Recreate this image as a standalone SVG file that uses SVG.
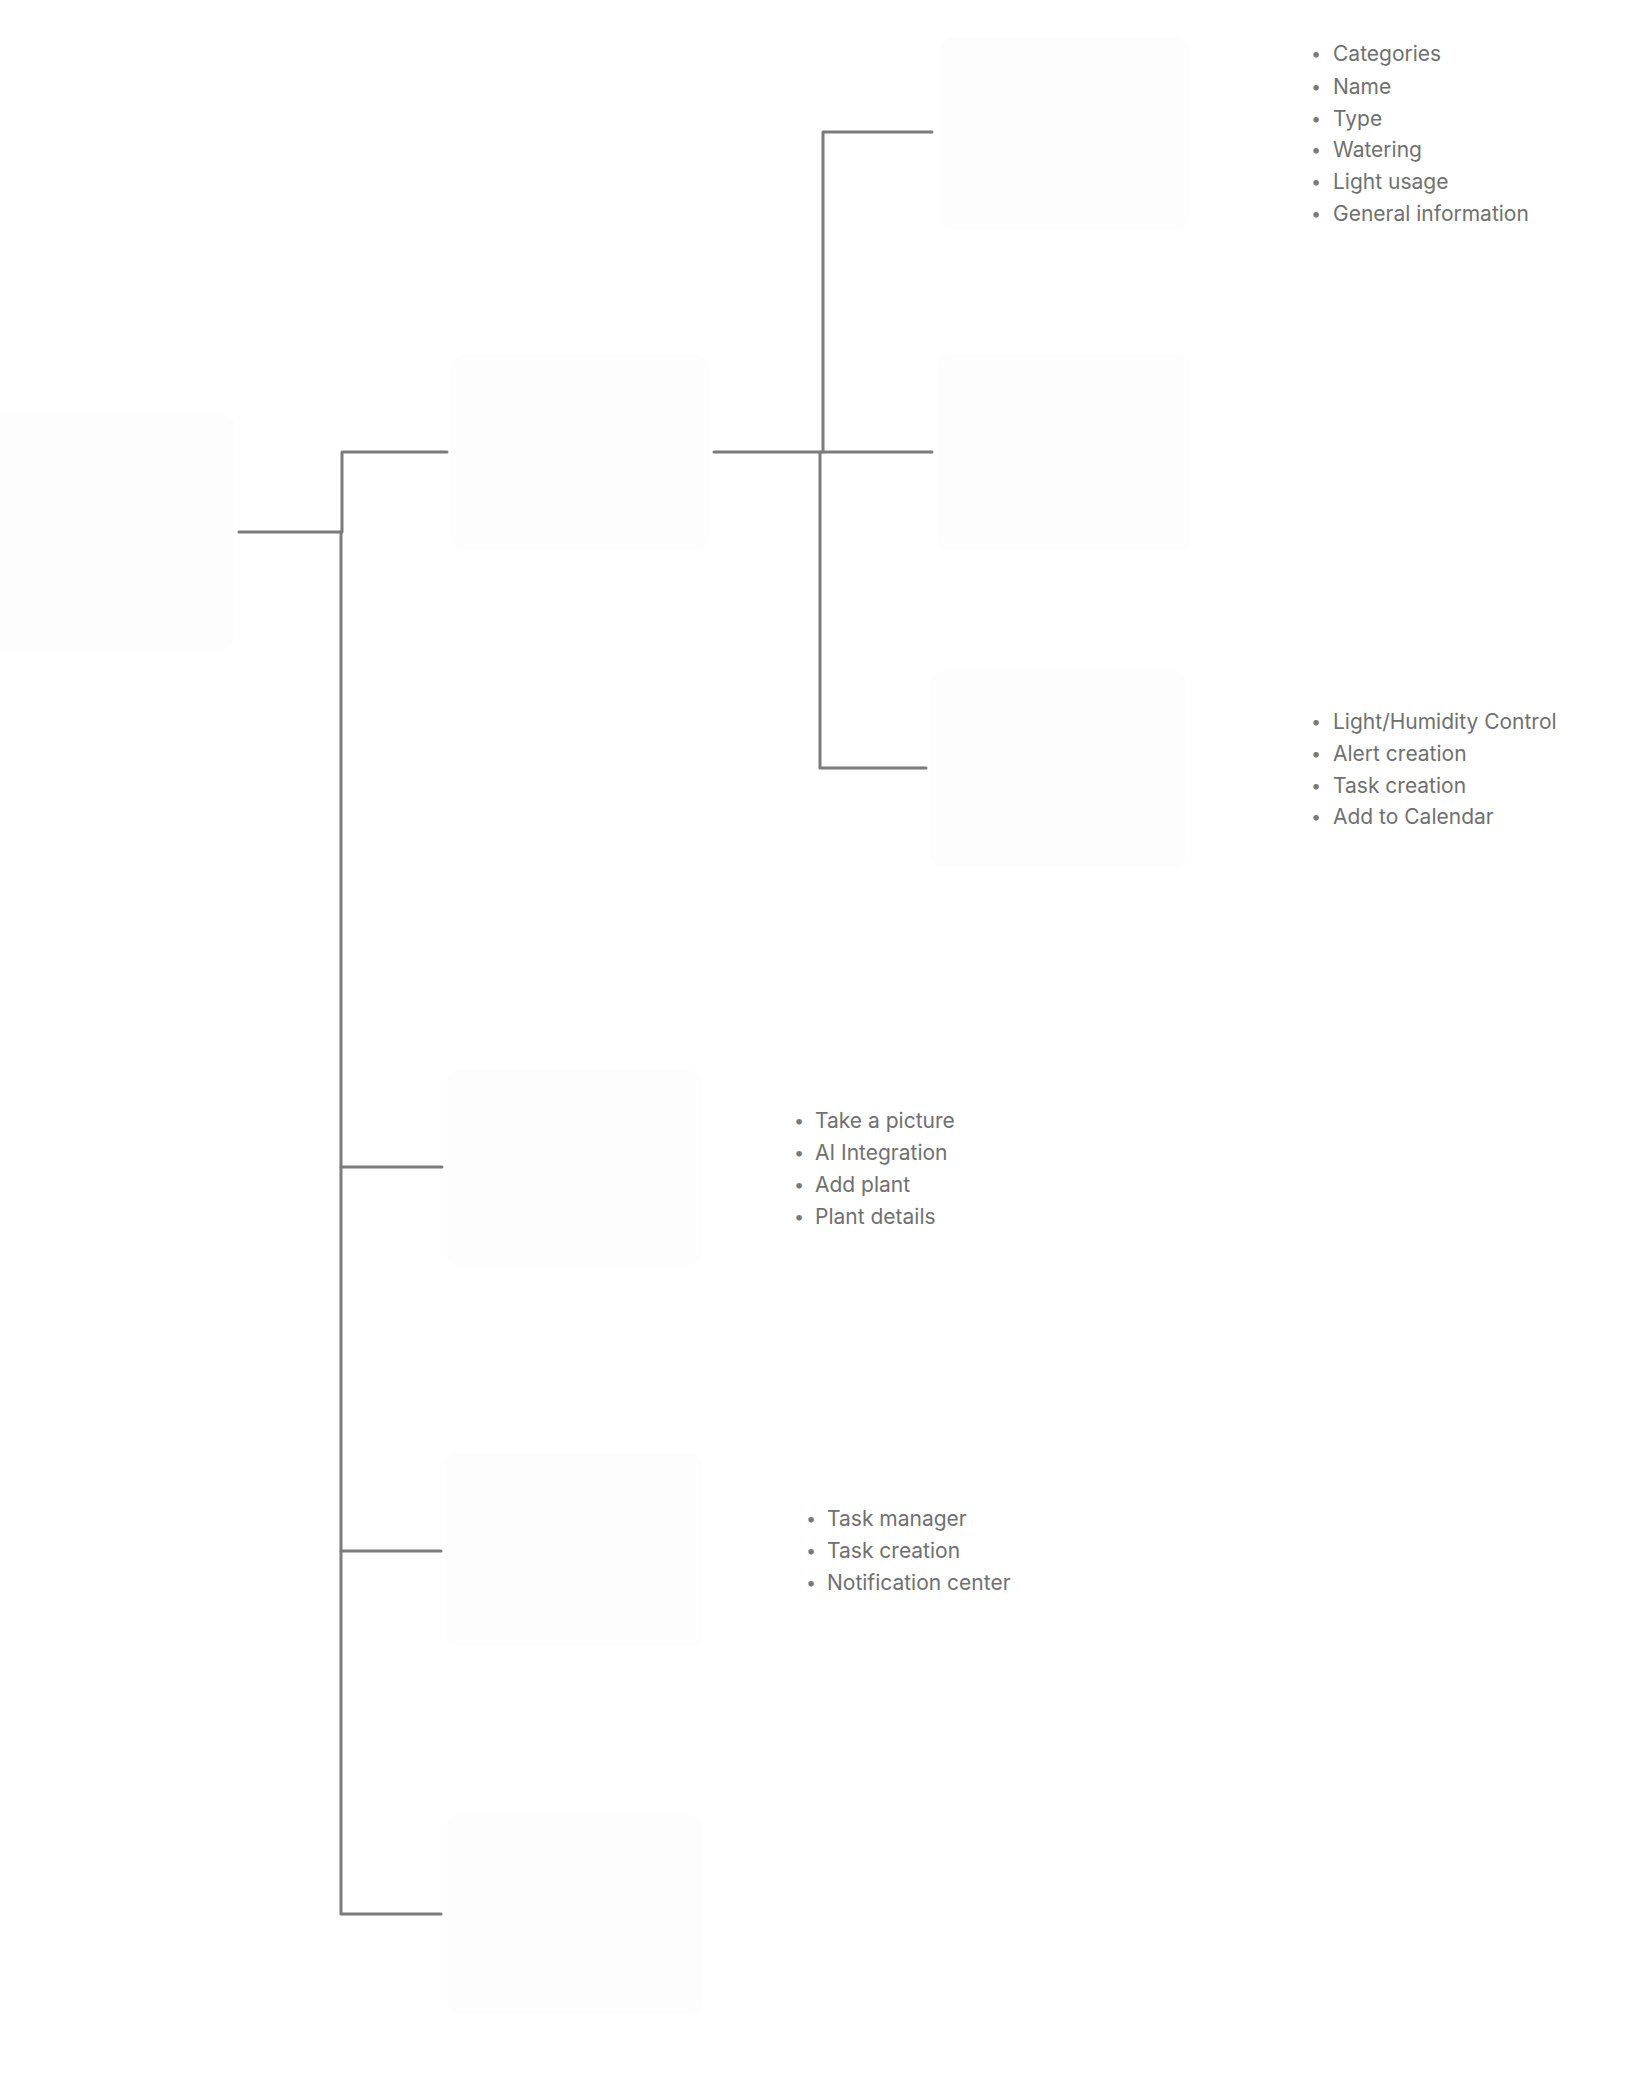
<svg xmlns="http://www.w3.org/2000/svg" width="1632" height="2097" viewBox="0 0 1632 2097">
<style>
.box{fill:#fdfdfd;stroke:none}
.ln{fill:none;stroke:#7b7b7b;stroke-width:3;stroke-linecap:round;stroke-linejoin:round}
.t{font-family:Inter,"Noto Sans","Liberation Sans",sans-serif;font-size:21px;fill:#707070}
.b{font-family:Inter,"Noto Sans","Liberation Sans",sans-serif;font-size:18px;fill:#7a7a7a}
</style>
<rect width="1632" height="2097" fill="#ffffff"/>
<g id="connectors">
<path class="ln" d="M239 532 H342 V452 H447"/>
<path class="ln" d="M341 532 V1914 H441"/>
<path class="ln" d="M341 1167 H442"/>
<path class="ln" d="M341 1551 H441"/>
<path class="ln" d="M714 452 H932"/>
<path class="ln" d="M823 452 V132 H932"/>
<path class="ln" d="M820 452 V768 H926"/>
</g>
<g id="root"><rect class="box" x="-12" y="415" width="247" height="234" rx="13"/></g>
<g id="node-l2-top"><rect class="box" x="451" y="355" width="258" height="195" rx="13"/></g>
<g id="node-l2-2"><rect class="box" x="447" y="1070" width="255" height="195" rx="13"/></g>
<g id="node-l2-3"><rect class="box" x="445" y="1453" width="257" height="193" rx="13"/></g>
<g id="node-l2-4"><rect class="box" x="447" y="1815" width="256" height="198" rx="13"/></g>
<g id="node-l3-top"><rect class="box" x="940" y="37" width="249" height="193" rx="13"/></g>
<g id="node-l3-mid"><rect class="box" x="937" y="355" width="253" height="195" rx="13"/></g>
<g id="node-l3-bot"><rect class="box" x="930" y="671" width="256" height="196" rx="13"/></g>
<g id="list-1">
<text class="b" x="1311" y="60">•</text><text class="t" x="1333" y="61">Categories</text>
<text class="b" x="1311" y="93">•</text><text class="t" x="1333" y="94">Name</text>
<text class="b" x="1311" y="125">•</text><text class="t" x="1333" y="126">Type</text>
<text class="b" x="1311" y="156">•</text><text class="t" x="1333" y="157">Watering</text>
<text class="b" x="1311" y="188">•</text><text class="t" x="1333" y="189">Light usage</text>
<text class="b" x="1311" y="220">•</text><text class="t" x="1333" y="221">General information</text>
</g>
<g id="list-2">
<text class="b" x="1311" y="728">•</text><text class="t" x="1333" y="729">Light/Humidity Control</text>
<text class="b" x="1311" y="760">•</text><text class="t" x="1333" y="761">Alert creation</text>
<text class="b" x="1311" y="792">•</text><text class="t" x="1333" y="793">Task creation</text>
<text class="b" x="1311" y="823">•</text><text class="t" x="1333" y="824">Add to Calendar</text>
</g>
<g id="list-3">
<text class="b" x="794" y="1127">•</text><text class="t" x="815" y="1128">Take a picture</text>
<text class="b" x="794" y="1159">•</text><text class="t" x="815" y="1160">AI Integration</text>
<text class="b" x="794" y="1191">•</text><text class="t" x="815" y="1192">Add plant</text>
<text class="b" x="794" y="1223">•</text><text class="t" x="815" y="1224">Plant details</text>
</g>
<g id="list-4">
<text class="b" x="806" y="1525">•</text><text class="t" x="827" y="1526">Task manager</text>
<text class="b" x="806" y="1557">•</text><text class="t" x="827" y="1558">Task creation</text>
<text class="b" x="806" y="1589">•</text><text class="t" x="827" y="1590">Notification center</text>
</g>
</svg>
